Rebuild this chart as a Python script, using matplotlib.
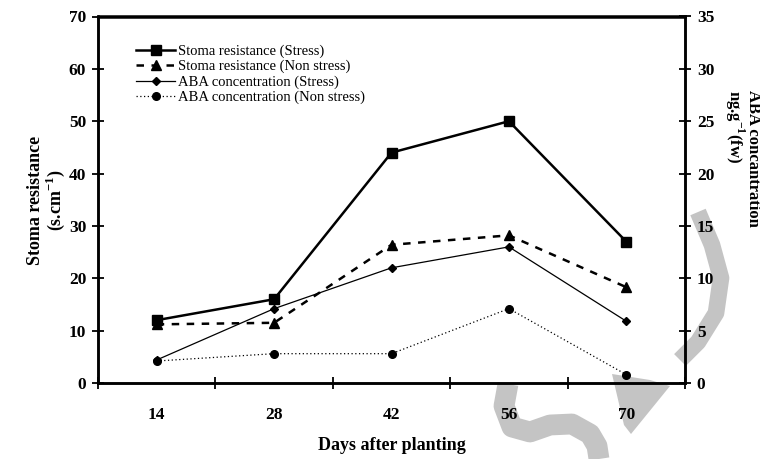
import numpy as np
import matplotlib.pyplot as plt
from matplotlib.lines import Line2D
from matplotlib.patches import Polygon

plt.rcParams['font.family'] = ['Liberation Serif', 'DejaVu Serif']
plt.rcParams['mathtext.fontset'] = 'custom'
plt.rcParams['mathtext.rm'] = 'Liberation Serif'
plt.rcParams['mathtext.bf'] = 'Liberation Serif:bold'

# data
days = ['14', '28', '42', '56', '70']
stoma_stress = [12, 16, 44, 50, 27]
stoma_nonstress = [11.2, 11.5, 26.4, 28.2, 18.3]
aba_stress = [2.2, 7.1, 11.0, 13.0, 5.9]
aba_nonstress = [2.1, 2.8, 2.8, 7.1, 0.8]

W, H = 760, 459
fig = plt.figure(figsize=(W / 100, H / 100), dpi=100)


def px(x, y):
    # pixel coords (origin top-left) -> figure fraction
    return x / W, 1 - y / H


# faint grey watermark behind the chart
wm = '#c4c4c4'
for path, lw in [
    ([(698, 212), (712, 245), (721, 278), (716, 313), (698, 342), (680, 360)], 12),
    ([(508, 384), (504, 406), (512, 427), (530, 432), (550, 425), (572, 424), (590, 434),
      (597, 446), (599, 459)], 15),
]:
    xs, ys = zip(*[px(*p) for p in path])
    fig.add_artist(Line2D(xs, ys, color=wm, lw=lw, solid_capstyle='butt',
                          solid_joinstyle='round', zorder=0))
fig.add_artist(Polygon([px(612, 374), px(650, 380), px(670, 386), px(631, 434), px(624, 425)],
                       closed=True, color=wm, lw=0, zorder=0))

l, b = px(98, 383)
r, t = px(685, 16.5)
ax = fig.add_axes([l, b, r - l, t - b])
ax.patch.set_alpha(0)
ax2 = ax.twinx()

x = np.arange(len(days))

h1, = ax.plot(x, stoma_stress, color='black', lw=1.8, marker='s', ms=7,
              label='Stoma resistance (Stress)')
h2, = ax.plot(x, stoma_nonstress, color='black', lw=1.8, ls=(0, (3, 3)), marker='^', ms=7,
              label='Stoma resistance (Non stress)')
h3, = ax2.plot(x, aba_stress, color='black', lw=0.9, marker='D', ms=4.5,
               label='ABA concentration (Stress)')
h4, = ax2.plot(x, aba_nonstress, color='black', lw=0.9, ls=(0, (1, 2)), marker='o', ms=5.5,
               label='ABA concentration (Non stress)')

ax.set_xlim(-0.5, len(days) - 0.5)
ax.set_ylim(0, 70)
ax2.set_ylim(0, 35)
ax.set_yticks(np.arange(0, 71, 10))
ax2.set_yticks(np.arange(0, 36, 5))

# category boundaries carry the tick marks, labels sit at the centres
ax.set_xticks(np.arange(-0.5, len(days), 1.0))
ax.set_xticklabels([])
ax.set_xticks(x, minor=True)
ax.set_xticklabels(days, minor=True)
ax.tick_params(axis='x', which='minor', length=0, pad=17)
ax.tick_params(axis='x', which='major', direction='inout', length=9, width=1.3)

for a in (ax, ax2):
    for lab in a.get_yticklabels() + a.get_xticklabels(minor=True):
        lab.set_fontsize(12.5)
        lab.set_fontweight('bold')
    for s in a.spines.values():
        s.set_linewidth(1.8)
ax.tick_params(axis='y', direction='inout', length=9, width=1.3, pad=4)
ax2.tick_params(axis='y', direction='inout', length=9, width=1.3, pad=4)

fig.text(392 / W, 1 - 446 / H, 'Days after planting', ha='center', va='center',
         fontsize=13, fontweight='bold')
fig.text(47 / W, 1 - 200 / H, 'Stoma resistance\n(s.cm$^{\\mathbf{-1}}$)', rotation=90,
         ha='center', va='center', fontsize=13, fontweight='bold', linespacing=1.0)
fig.text(742 / W, 1 - 158 / H, 'ABA concantration\nng.g$^{\\mathbf{-1}}$(fw)', rotation=270,
         ha='center', va='center', multialignment='left', fontsize=12,
         fontweight='bold', linespacing=0.95)

ax.legend(handles=[h1, h2, h3, h4], loc='upper left', bbox_to_anchor=(0.055, 0.94),
          frameon=False, fontsize=10.5, handlelength=2.7, handletextpad=0.2,
          labelspacing=0.14, borderaxespad=0)

fig.savefig('out.png', dpi=100)
